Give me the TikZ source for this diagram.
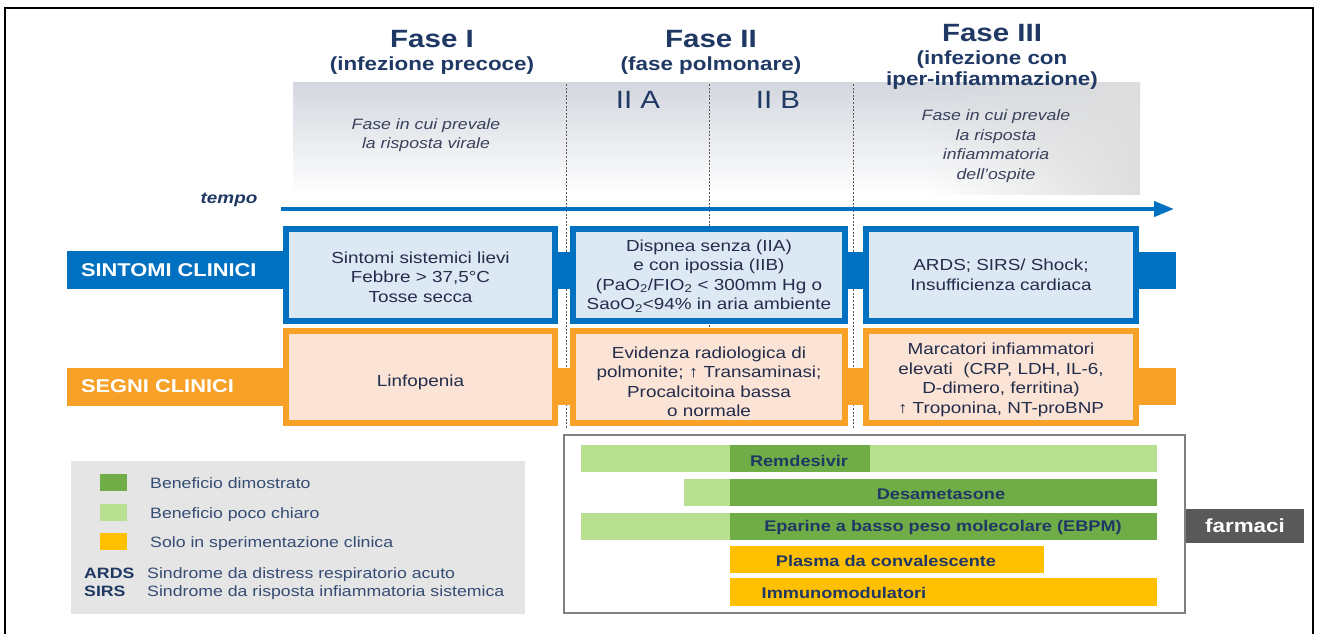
\documentclass[tikz,border=0pt]{standalone}
\usepackage{fontspec}
\setmainfont{Liberation Sans}[FakeStretch=1.18]
\usetikzlibrary{arrows.meta,fadings}

\definecolor{navy}{HTML}{1F3864}
\definecolor{ink}{HTML}{232C4A}
\definecolor{sblue}{HTML}{0070C0}
\definecolor{sbluefill}{HTML}{DDE8F5}
\definecolor{sorange}{HTML}{F7A128}
\definecolor{sorangefill}{HTML}{FBE4D6}
\definecolor{dgreen}{HTML}{70AD47}
\definecolor{lgreen}{HTML}{B9DF90}
\definecolor{gold}{HTML}{FFC000}
\definecolor{legendgray}{HTML}{E5E5E5}
\definecolor{tagbg}{HTML}{595959}
\definecolor{bandtop}{HTML}{D3D7DE}
\definecolor{bandmid}{HTML}{EDEFF2}
\definecolor{framegray}{HTML}{7F7F7F}

\tikzfading[name=fade right, left color=transparent!100, right color=transparent!0]

\tikzset{
  phase/.style={font=\fontsize{25}{30}\selectfont\bfseries, text=navy, anchor=base},
  phasesub/.style={font=\fontsize{19}{21}\selectfont\bfseries, text=navy, align=center, anchor=base},
  subphase/.style={font=\fontsize{25}{30}\selectfont, text=navy, anchor=base},
  note/.style={font=\fontsize{15}{19.5}\selectfont\itshape, text=ink!90, align=center},
  boxtext/.style={font=\fontsize{16}{19.5}\selectfont, text=ink, align=center, inner sep=0pt},
  symbox/.style={draw=sblue, line width=4pt, fill=sbluefill, minimum height=90pt, inner sep=0pt},
  signbox/.style={draw=sorange, line width=4pt, fill=sorangefill, minimum height=90pt, inner sep=0pt},
  rowlabel/.style={minimum width=218pt, minimum height=38pt, text width=190pt, inner xsep=14pt,
    align=left, font=\fontsize{18.5}{22}\selectfont\bfseries, text=white, inner ysep=0pt},
  link/.style={line width=37pt},
  divider/.style={draw=black!65, line width=0.8pt, dash pattern=on 2pt off 1.6pt},
  drug/.style={font=\fontsize{15.4}{18}\selectfont\bfseries, text=navy, inner sep=0pt},
  legtext/.style={font=\fontsize{15}{18}\selectfont, text=navy!90, anchor=base west, inner sep=0pt},
  legabbr/.style={font=\fontsize{15}{18}\selectfont\bfseries, text=navy, anchor=base west, inner sep=0pt},
}

\begin{document}
\begin{tikzpicture}[x=1pt,y=-1pt]
\useasboundingbox (0,0) rectangle (1319,633);
\fill[white] (0,0) rectangle (1319,633);

% outer frame
\draw[black, line width=2pt] (5,640) -- (5,8) -- (1313,8) -- (1313,640);

% shaded background band behind the phase descriptions
\shade[top color=bandtop, middle color=bandmid, bottom color=white] (293,82) rectangle (1140,195);
\fill[black!13, path fading=fade right] (930,82) rectangle (1140,195);

% phase headings
\node[phase] (f1) at (432,47) {Fase I};
\node[phasesub] (f1s) at (432,70) {(infezione precoce)};
\node[phase] (f2) at (711,47) {Fase II};
\node[phasesub] (f2s) at (711,70) {(fase polmonare)};
\node[phase] (f3) at (992,41) {Fase III};
\node[phasesub] (f3s) at (992,64) {(infezione con};
\node[phasesub] (f3t) at (992,85) {iper-infiammazione)};

\node[subphase] (p2a) at (638,108) {II A};
\node[subphase] (p2b) at (778,108) {II B};

\node[note] (n1) at (426,135) {Fase in cui prevale\\la risposta virale};
\node[note] (n3) at (996,146) {Fase in cui prevale\\la risposta\\infiammatoria\\dell’ospite};

% phase dividers
\draw[divider] (566,84) -- (566,428);
\draw[divider] (709,84) -- (709,327);
\draw[divider] (853,84) -- (853,428);

% time axis
\node[font=\fontsize{16}{19}\selectfont\bfseries\itshape, text=navy, anchor=base] (tempo) at (229,203) {tempo};
\coordinate (t0) at (281,209);
\coordinate (t1) at (1174,209);
\draw[sblue, line width=4pt, -{Triangle[length=20pt,width=15pt]}] (t0) -- (t1);

% clinical symptoms row
\node[rowlabel, fill=sblue] (sint) at (176,270) {SINTOMI CLINICI};
\node[symbox, minimum width=267pt] (s1) at (420.5,275) {};
\node[symbox, minimum width=270pt] (s2) at (709,275) {};
\node[symbox, minimum width=268pt] (s3) at (1001,275) {};
\coordinate (send) at (1176,270);

% clinical signs row
\node[rowlabel, fill=sorange] (segn) at (176,386.5) {SEGNI CLINICI};
\node[signbox, minimum width=267pt] (g1) at (420.5,377) {};
\node[signbox, minimum width=270pt] (g2) at (709,377) {};
\node[signbox, minimum width=268pt] (g3) at (1001,377) {};
\coordinate (gend) at (1176,386.5);

% band links between the boxes
\draw[link, sblue] ([yshift=5pt]s1.east) -- ([yshift=5pt]s2.west);
\draw[link, sblue] ([yshift=5pt]s2.east) -- ([yshift=5pt]s3.west);
\draw[link, sblue] ([yshift=5pt]s3.east) -- (send);
\draw[link, sorange] ([yshift=-9.5pt]g1.east) -- ([yshift=-9.5pt]g2.west);
\draw[link, sorange] ([yshift=-9.5pt]g2.east) -- ([yshift=-9.5pt]g3.west);
\draw[link, sorange] ([yshift=-9.5pt]g3.east) -- (gend);
% redraw box outlines over the link ends
\foreach \b in {s1,s2,s3} \draw[sblue, line width=4pt] (\b.south west) rectangle (\b.north east);
\foreach \b in {g1,g2,g3} \draw[sorange, line width=4pt] (\b.south west) rectangle (\b.north east);

% box contents
\node[boxtext] (s1t) at ([yshift=-2pt]s1.center) {Sintomi sistemici lievi\\Febbre > 37,5°C\\Tosse secca};
\node[boxtext] (s2t) at ([yshift=-1pt]s2.center) {Dispnea senza (IIA)\\e con ipossia (IIB)\\(PaO\textsubscript{2}/FIO\textsubscript{2} < 300mm Hg o\\SaoO\textsubscript{2}<94\% in aria ambiente};
\node[boxtext] (s3t) at (s3.center) {ARDS; SIRS/ Shock;\\Insufficienza cardiaca};
\node[boxtext] (g1t) at ([yshift=-5pt]g1.center) {Linfopenia};
\node[boxtext] (g2t) at ([yshift=-5pt]g2.center) {Evidenza radiologica di\\polmonite; ↑ Transaminasi;\\Procalcitoina bassa\\o normale};
\node[boxtext] (g3t) at ([yshift=-3pt]g3.center) {Marcatori infiammatori\\elevati\ \ (CRP, LDH, IL-6,\\D-dimero, ferritina)\\↑ Troponina, NT-proBNP};

% legend
\fill[legendgray] (71,461) rectangle (525,614);
\fill[dgreen] (100,474) rectangle (127,491);
\fill[lgreen] (100,504) rectangle (127,521);
\fill[gold] (100,533) rectangle (127,550);
\node[legtext] (l1) at (150,488) {Beneficio dimostrato};
\node[legtext] (l2) at (150,518) {Beneficio poco chiaro};
\node[legtext] (l3) at (150,547) {Solo in sperimentazione clinica};
\node[legabbr] (a1) at (84,578) {ARDS};
\node[legtext] (a1t) at (147,578) {Sindrome da distress respiratorio acuto};
\node[legabbr] (a2) at (84,596) {SIRS};
\node[legtext] (a2t) at (147,596) {Sindrome da risposta infiammatoria sistemica};

% drugs panel
\draw[framegray, line width=2.5pt, fill=white] (564,435) rectangle (1185,613);
\fill[lgreen] (581,445) rectangle (1157,472);
\fill[dgreen] (730,445) rectangle (870,472);
\fill[lgreen] (684,479) rectangle (730,506);
\fill[dgreen] (730,479) rectangle (1157,506);
\fill[lgreen] (581,513) rectangle (730,540);
\fill[dgreen] (730,513) rectangle (1157,540);
\fill[gold] (730,546) rectangle (1044,573);
\fill[gold] (730,578) rectangle (1157,606);
\node[drug] (d1) at (799,461) {Remdesivir};
\node[drug] (d2) at (941,494) {Desametasone};
\node[drug] (d3) at (943,528) {Eparine a basso peso molecolare (EBPM)};
\node[drug] (d4) at (886,561) {Plasma da convalescente};
\node[drug] (d5) at (844,593) {Immunomodulatori};

\node[fill=tagbg, minimum width=118pt, minimum height=34pt, inner sep=0pt,
      font=\fontsize{19}{22}\selectfont\bfseries, text=white] (farm) at (1245,526) {farmaci};
\end{tikzpicture}
\end{document}
